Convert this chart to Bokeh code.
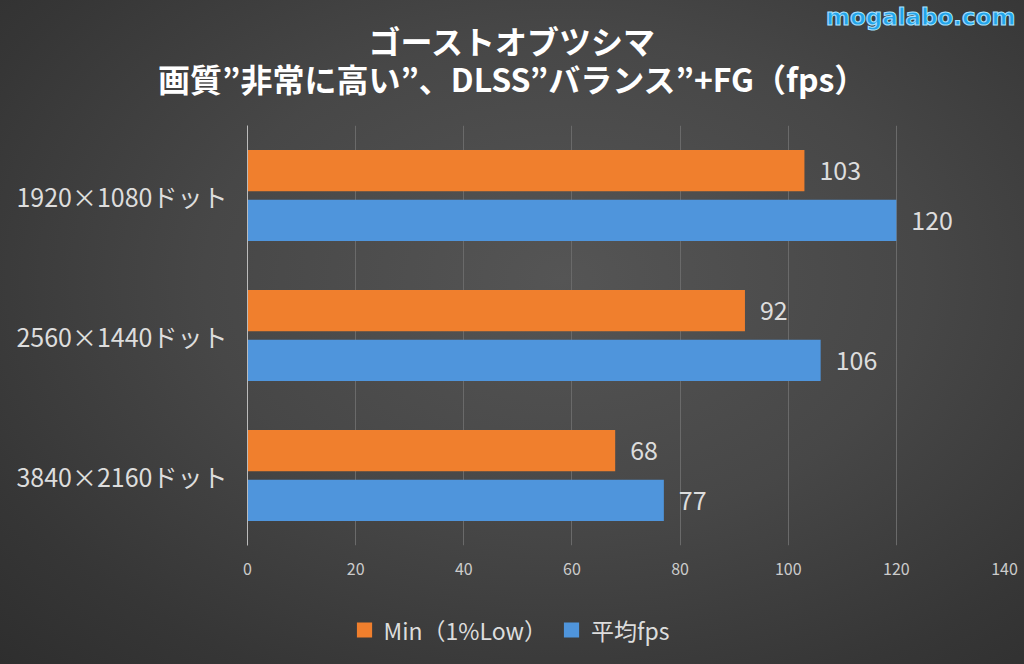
from bokeh.plotting import figure
from bokeh.layouts import column
from bokeh.models import (FactorRange, Range1d, FixedTicker, Legend, LegendItem,
                          ColumnDataSource)
from bokeh.transform import dodge
from bokeh.core.properties import value
from bokeh.embed import file_html
from bokeh.resources import INLINE

categories = ["1920×1080ドット", "2560×1440ドット", "3840×2160ドット"]
min_fps = [103, 92, 68]
avg_fps = [120, 106, 77]
series_names = ["Min（1%Low）", "平均fps"]
x_ticks = [0, 20, 40, 60, 80, 100, 120, 140]
title_lines = ["ゴーストオブツシマ", "画質”非常に高い”、DLSS”バランス”+FG（fps）"]
watermark = "mogalabo.com"

FONT = "Noto Sans CJK JP"
ORANGE = "#F07F2D"
BLUE = "#4F95DC"
GRADIENT = "radial-gradient(ellipse at 55% 42%, #555555 0%, #474747 45%, #363636 80%, #2e2e2e 100%)"

W = 1024
HEAD_H = 118
FOOT_H = 69


def transparent(fig):
    fig.background_fill_color = None
    fig.border_fill_color = None
    fig.outline_line_color = None


# ---------- header (titles + watermark) ----------
head = figure(width=W, height=HEAD_H, x_range=Range1d(0, W), y_range=Range1d(0, HEAD_H),
              output_backend="svg", toolbar_location=None,
              x_axis_location=None, y_axis_location=None, min_border=0)
head.frame_align = False
transparent(head)
head.grid.visible = False
head_src = ColumnDataSource(dict(x=[W / 2, W / 2], y=[HEAD_H - 39, HEAD_H - 77], t=title_lines))
head.text(x="x", y="y", text="t", source=head_src, text_align="center", text_baseline="middle",
          text_font=value(FONT), text_font_size="32px", text_font_style="bold",
          text_color="#ffffff")
wm_src = ColumnDataSource(dict(x=[1015], y=[HEAD_H - 16], t=[watermark]))
head.text(x="x", y="y", text="t", source=wm_src, text_align="right", text_baseline="middle",
          text_font=value("DejaVu Sans"), text_font_size="23px", text_font_style="bold",
          text_color="#22A4EA", text_outline_color="#a8e2ff")

# ---------- main chart ----------
src = ColumnDataSource(dict(
    cat=categories,
    mn=min_fps,
    av=avg_fps,
    mn_txt=[str(v) for v in min_fps],
    av_txt=[str(v) for v in avg_fps],
))

p = figure(frame_width=757, frame_height=420,
           y_range=FactorRange(factors=list(reversed(categories)), range_padding=0),
           x_range=Range1d(0, 140),
           output_backend="svg", toolbar_location=None,
           min_border_left=247, min_border_right=20,
           min_border_top=7, min_border_bottom=50)
p.frame_align = False
transparent(p)

r1 = p.hbar(y=dodge("cat", 0.178, range=p.y_range), right="mn", left=0, height=0.295,
            source=src, fill_color=ORANGE, line_color=None)
r2 = p.hbar(y=dodge("cat", -0.178, range=p.y_range), right="av", left=0, height=0.295,
            source=src, fill_color=BLUE, line_color=None)

p.text(x="mn", y=dodge("cat", 0.178, range=p.y_range), text="mn_txt", source=src,
       x_offset=15, text_baseline="middle", text_align="left",
       text_font=value(FONT), text_font_size="25px", text_color="#dddddd")
p.text(x="av", y=dodge("cat", -0.178, range=p.y_range), text="av_txt", source=src,
       x_offset=15, text_baseline="middle", text_align="left",
       text_font=value(FONT), text_font_size="25px", text_color="#dddddd")

p.xaxis.ticker = FixedTicker(ticks=x_ticks)
p.xaxis.axis_line_color = None
p.xaxis.major_tick_line_color = None
p.xaxis.minor_tick_line_color = None
p.xaxis.major_label_text_font = FONT
p.xaxis.major_label_text_font_size = "16px"
p.xaxis.major_label_text_color = "#cccccc"
p.xaxis.major_label_standoff = 11

p.yaxis.axis_line_color = "#bbbbbb"
p.yaxis.major_tick_line_color = None
p.yaxis.minor_tick_line_color = None
p.yaxis.major_label_text_font = FONT
p.yaxis.major_label_text_font_size = "25px"
p.yaxis.major_label_text_color = "#dddddd"
p.yaxis.major_label_standoff = 14

p.xgrid.grid_line_color = "#6a6a6a"
p.ygrid.grid_line_color = None

# ---------- footer (legend) ----------
foot = figure(width=W, height=FOOT_H, x_range=Range1d(0, 1), y_range=Range1d(0, 1),
              output_backend="svg", toolbar_location=None,
              x_axis_location=None, y_axis_location=None, min_border=0)
foot.frame_align = False
transparent(foot)
foot.grid.visible = False
# legend proxies, kept outside the visible range
proxy = ColumnDataSource(dict(y=[5], right=[0]))
f1 = foot.hbar(y="y", right="right", left=0, height=0.5, source=proxy,
               fill_color=ORANGE, line_color=None)
f2 = foot.hbar(y="y", right="right", left=0, height=0.5, source=proxy,
               fill_color=BLUE, line_color=None)

legend = Legend(items=[LegendItem(label=series_names[0], renderers=[f1]),
                       LegendItem(label=series_names[1], renderers=[f2])],
                orientation="horizontal", location="center",
                label_text_font=FONT, label_text_font_size="23px",
                label_text_color="#dddddd",
                glyph_width=19, glyph_height=19, label_standoff=10, spacing=15,
                background_fill_alpha=0, border_line_color=None, margin=0, padding=4)
foot.add_layout(legend, "center")

layout = column(head, p, foot, spacing=0, styles={"background": GRADIENT})

open("out.html", "w").write(file_html(layout, INLINE))
